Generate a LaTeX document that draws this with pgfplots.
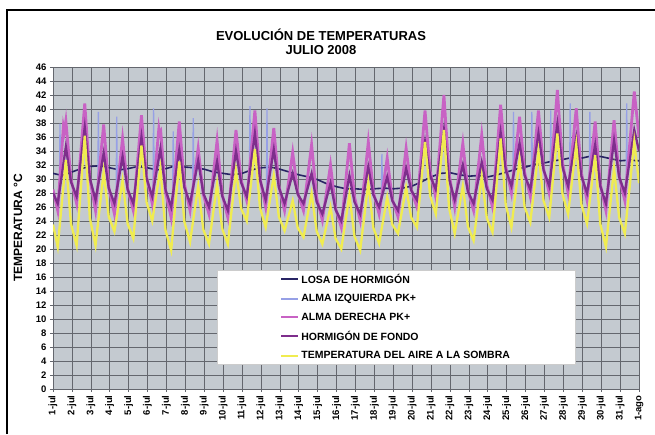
\documentclass[border=0pt]{standalone}
\usepackage{fontspec}
\setmainfont{Liberation Sans}
\usepackage{pgfplots}
\pgfplotsset{compat=1.18}
\definecolor{cnavy}{RGB}{40,36,100}
\definecolor{clblue}{RGB}{150,160,230}
\definecolor{cpink}{RGB}{200,98,196}
\definecolor{cpurple}{RGB}{126,46,140}
\definecolor{cyellow}{RGB}{240,236,80}
\definecolor{cbg}{RGB}{196,202,208}
\definecolor{cgrid}{RGB}{100,103,110}
\begin{document}
\begin{tikzpicture}
\path[use as bounding box] (0,0) rectangle (655pt,434pt);
\draw[line width=1.2pt] (7pt,0pt) -- (7pt,424pt) -- (655pt,424pt);
\node[font=\bfseries\fontsize{13}{15}\selectfont] at (321pt,399pt) {EVOLUCIÓN DE TEMPERATURAS};
\node[font=\bfseries\fontsize{13}{15}\selectfont] at (321pt,384pt) {JULIO 2008};
\node[rotate=90,font=\bfseries\fontsize{12}{14}\selectfont] at (18pt,206pt) {TEMPERATURA °C};
\begin{axis}[
  at={(53pt,45pt)}, anchor=south west, scale only axis,
  width=586pt, height=322pt,
  xmin=1, xmax=32, ymin=0, ymax=46,
  xtick={1,...,32},
  xticklabels={1-jul,2-jul,3-jul,4-jul,5-jul,6-jul,7-jul,8-jul,9-jul,10-jul,11-jul,12-jul,13-jul,14-jul,15-jul,16-jul,17-jul,18-jul,19-jul,20-jul,21-jul,22-jul,23-jul,24-jul,25-jul,26-jul,27-jul,28-jul,29-jul,30-jul,31-jul,1-ago},
  ytick={0,2,...,46},
  /pgf/number format/assume math mode=true,
  tick label style={font=\bfseries\fontsize{9.5}{11}\selectfont},
  x tick label style={rotate=90, anchor=east},
  tick pos=left, tick align=outside, major tick length=3pt,
  tick style={cgrid, line width=0.6pt},
  xmajorgrids, ymajorgrids,
  grid style={cgrid, line width=0.6pt},
  axis line style={cgrid, line width=0.6pt},
  axis background/.style={fill=cbg},
  legend cell align=left,
  legend image post style={line width=2pt},
  legend style={at={(0.28,0.37)}, anchor=north west, fill=white, draw=gray!40,
    inner xsep=63pt, inner ysep=2pt, row sep=5.5pt,
    font=\bfseries\fontsize{10.5}{12.5}\selectfont},
]
% LOSA DE HORMIGON
\addplot[cnavy, line width=1.6pt] coordinates {
(1,30.8) (1.5,30.5) (2,31) (2.5,31.5) (3,31.8) (3.5,31.9) (4,31.6) (4.5,31.3) (5,31.5) (5.5,31.8) (6,31.6) (6.5,31.3) (7,31.5) (7.5,31.9) (8,31.7) (8.5,31.6) (9,31.4) (9.5,31.0) (10,30.8) (10.5,30.6) (11,30.8) (11.5,31.3) (12,31.6) (12.5,31.7) (13,31.4) (13.5,31.0) (14,30.6) (14.5,30.3) (15,29.9) (15.5,29.3) (16,28.9) (16.5,28.6) (17,28.6) (17.5,28.5) (18,28.6) (18.5,28.7) (19,28.6) (19.5,28.7) (20,29.0) (20.5,29.6) (21,30.3) (21.5,30.8) (22,30.9) (22.5,30.6) (23,30.4) (23.5,30.5) (24,30.3) (24.5,30.6) (25,31.0) (25.5,31.4) (26,31.7) (26.5,32.1) (27,32.3) (27.5,32.6) (28,32.8) (28.5,33.1) (29,33.0) (29.5,33.3) (30,33.2) (30.5,32.9) (31,32.6) (31.5,32.7) (32,32.6)
};
\addlegendentry{LOSA DE HORMIGÓN}
% ALMA IZQUIERDA (mostly hidden, spikes)
\addplot[clblue, line width=1.3pt] coordinates {
(1.0,28) (1.25,26.5) (1.34,28.2) (1.37,37.9) (1.40,29.3) (1.68,34.6) (1.95,29.6) (2.25,27.5) (2.68,37.4) (2.95,30.1) (3.25,27) (3.37,28.9) (3.40,39.6) (3.43,29.8) (3.68,33.7) (3.95,28.7) (4.25,26.5) (4.34,27.9) (4.37,38.9) (4.40,28.8) (4.68,33.2) (4.95,28.5) (5.25,26.5) (5.68,36) (5.95,30.1) (6.25,27.5) (6.29,28.1) (6.32,40.1) (6.35,29.1) (6.68,34.3) (6.95,28.5) (7.25,26) (7.33,27.5) (7.36,36.8) (7.39,28.7) (7.68,34.2) (7.95,28.8) (8.25,26.5) (8.39,28.5) (8.42,38.7) (8.45,29.3) (8.68,32.6) (8.95,28.0) (9.25,26) (9.68,32.5) (9.95,27.6) (10.25,25.5) (10.68,34) (10.95,29.5) (11.25,27.5) (11.39,30.4) (11.42,40.4) (11.45,31.7) (11.68,36.5) (11.95,29.9) (12.25,27) (12.29,27.7) (12.32,40.1) (12.35,28.7) (12.68,34.2) (12.95,28.8) (13.25,26.5) (13.68,30.8) (13.95,27.8) (14.25,26.5) (14.68,30.8) (14.95,26.7) (15.25,25) (15.68,29.4) (15.95,25.6) (16.25,24) (16.68,30.5) (16.95,26.7) (17.25,25) (17.68,31.7) (17.95,27.7) (18.25,26) (18.37,27.2) (18.40,33.6) (18.43,27.8) (18.68,30.3) (18.95,26.9) (19.25,25.5) (19.68,31.5) (19.95,28.4) (20.25,27) (20.68,35.3) (20.95,30.5) (21.25,28.5) (21.68,37) (21.95,30.0) (22.25,27) (22.68,32) (22.95,28.2) (23.25,26.5) (23.68,32.4) (23.95,28.6) (24.25,27) (24.68,36.7) (24.95,31.3) (25.25,29) (25.33,30.1) (25.36,39.6) (25.39,31.0) (25.68,35.1) (25.95,30.5) (26.25,28.5) (26.30,29.4) (26.33,39.6) (26.36,30.5) (26.68,36.5) (26.95,31.3) (27.25,29) (27.30,30.0) (27.33,39.8) (27.36,31.3) (27.68,37.9) (27.95,31.7) (28.25,29) (28.33,30.3) (28.36,40.8) (28.39,31.3) (28.68,36) (28.95,30.4) (29.25,28) (29.37,29.9) (29.40,39.6) (29.43,30.9) (29.68,34.9) (29.95,29.0) (30.25,26.5) (30.68,35.5) (30.95,30.3) (31.25,28) (31.32,29.3) (31.35,40.8) (31.38,30.3) (31.75,37) (32.0,34)
};
\addlegendentry{ALMA IZQUIERDA PK+}
% ALMA DERECHA
\addplot[cpink, line width=2.8pt] coordinates {
(1.0,28.5) (1.25,25.5) (1.55,37.5) (1.60,36.8) (1.68,38.3) (1.95,30.0) (2.25,26.5) (2.68,40.8) (2.95,30.1) (3.25,25.5) (3.68,37.8) (3.95,28.8) (4.25,25) (4.68,35.8) (4.95,28.6) (5.25,25.5) (5.68,39.1) (5.95,30.3) (6.25,26.5) (6.60,37.2) (6.64,36.5) (6.70,36.8) (6.95,28.2) (7.25,24.5) (7.68,38.2) (7.95,29.3) (8.25,25.5) (8.68,34.4) (8.95,27.8) (9.25,25) (9.68,35.5) (9.95,27.8) (10.25,24.5) (10.68,37) (10.95,29.9) (11.25,26.9) (11.68,39.8) (11.95,30.1) (12.25,26) (12.68,37.3) (12.95,29.0) (13.25,25.5) (13.68,33.8) (13.95,28.0) (14.25,25.5) (14.68,34.9) (14.95,27.3) (15.25,24.1) (15.68,32) (15.95,25.8) (16.25,23.1) (16.68,35.1) (16.95,27.4) (17.25,24.1) (17.68,35.3) (17.95,28.1) (18.25,25) (18.68,33) (18.95,27.1) (19.25,24.6) (19.68,34.4) (19.95,28.5) (20.25,26) (20.68,39.8) (20.95,31.1) (21.25,27.4) (21.68,42) (21.95,30.8) (22.25,26) (22.68,35.1) (22.95,28.4) (23.25,25.5) (23.68,36.3) (23.95,29.1) (24.25,26) (24.68,40.6) (24.95,31.8) (25.25,28) (25.68,38.9) (25.95,30.9) (26.25,27.5) (26.68,39.8) (26.95,31.5) (27.25,28) (27.68,42.7) (27.95,32.4) (28.25,28) (28.68,40.1) (28.95,30.9) (29.25,27) (29.68,38.2) (29.95,29.3) (30.25,25.5) (30.68,38.4) (30.95,30.4) (31.25,26.9) (31.75,42.5) (32.0,36)
};
\addlegendentry{ALMA DERECHA PK+}
% HORMIGON DE FONDO
\addplot[cpurple, line width=2.3pt] coordinates {
(1.0,28) (1.25,26.5) (1.68,34.6) (1.95,29.6) (2.25,27.5) (2.68,37.4) (2.95,30.1) (3.25,27) (3.68,33.7) (3.95,28.7) (4.25,26.5) (4.68,33.2) (4.95,28.5) (5.25,26.5) (5.68,36) (5.95,30.1) (6.25,27.5) (6.68,34.3) (6.95,28.5) (7.25,26) (7.68,34.2) (7.95,28.8) (8.25,26.5) (8.68,32.6) (8.95,28.0) (9.25,26) (9.68,32.5) (9.95,27.6) (10.25,25.5) (10.68,34) (10.95,29.5) (11.25,27.5) (11.68,36.5) (11.95,29.9) (12.25,27) (12.68,34.2) (12.95,28.8) (13.25,26.5) (13.68,30.8) (13.95,27.8) (14.25,26.5) (14.68,30.8) (14.95,26.7) (15.25,25) (15.68,29.4) (15.95,25.6) (16.25,24) (16.68,30.5) (16.95,26.7) (17.25,25) (17.68,31.7) (17.95,27.7) (18.25,26) (18.68,30.3) (18.95,26.9) (19.25,25.5) (19.68,31.5) (19.95,28.4) (20.25,27) (20.68,35.3) (20.95,30.5) (21.25,28.5) (21.68,37) (21.95,30.0) (22.25,27) (22.68,32) (22.95,28.2) (23.25,26.5) (23.68,32.4) (23.95,28.6) (24.25,27) (24.68,36.7) (24.95,31.3) (25.25,29) (25.68,35.1) (25.95,30.5) (26.25,28.5) (26.68,36.5) (26.95,31.3) (27.25,29) (27.68,37.9) (27.95,31.7) (28.25,29) (28.68,36) (28.95,30.4) (29.25,28) (29.68,34.9) (29.95,29.0) (30.25,26.5) (30.68,35.5) (30.95,30.3) (31.25,28) (31.75,37) (32.0,34)
};
\addlegendentry{HORMIGÓN DE FONDO}
% TEMPERATURA DEL AIRE
\addplot[cyellow, line width=2.3pt] coordinates {
(1.0,23.5) (1.25,20.3) (1.68,32.7) (1.95,23.6) (2.25,20.5) (2.68,36.2) (2.95,24.4) (3.25,20.5) (3.68,31) (3.95,24.6) (4.25,22.5) (4.68,29.8) (4.95,23.6) (5.25,21.5) (5.68,34.8) (5.95,26.7) (6.25,24) (6.68,31.5) (6.95,22.7) (7.25,19.8) (7.68,32.5) (7.95,23.9) (8.25,21) (8.68,29) (8.95,22.8) (9.25,20.7) (9.68,29.3) (9.95,22.9) (10.25,20.7) (10.68,31.2) (10.95,25.8) (11.25,24) (11.68,34.3) (11.95,25.9) (12.25,23.1) (12.68,30.5) (12.95,24.6) (13.25,22.6) (13.68,26.9) (13.95,23) (14.25,21.7) (14.68,27.9) (14.95,22.5) (15.25,20.7) (15.68,26) (15.95,21.5) (16.25,20) (16.68,27.7) (16.95,21.8) (17.25,19.8) (17.68,29.4) (17.95,23) (18.25,20.8) (18.68,27.4) (18.95,23.5) (19.25,22.2) (19.68,28.8) (19.95,24.5) (20.25,23.1) (20.68,35.3) (20.95,27.6) (21.25,25) (21.68,37) (21.95,25.9) (22.25,22.2) (22.68,29) (22.95,23.2) (23.25,21.2) (23.68,30.3) (23.95,24.4) (24.25,22.4) (24.68,35.8) (24.95,26.3) (25.25,23.1) (25.68,32.7) (25.95,26) (26.25,23.8) (26.68,33.9) (26.95,26.9) (27.25,24.5) (27.68,36.5) (27.95,27.9) (28.25,25) (28.68,34.9) (28.95,26.4) (29.25,23.6) (29.68,33.4) (29.95,23.6) (30.25,20.3) (30.68,31.5) (30.95,24.5) (31.25,22.2) (31.75,35.3) (32.0,29.4)
};
\addlegendentry{TEMPERATURA DEL AIRE A LA SOMBRA}
\end{axis}
\end{tikzpicture}
\end{document}
